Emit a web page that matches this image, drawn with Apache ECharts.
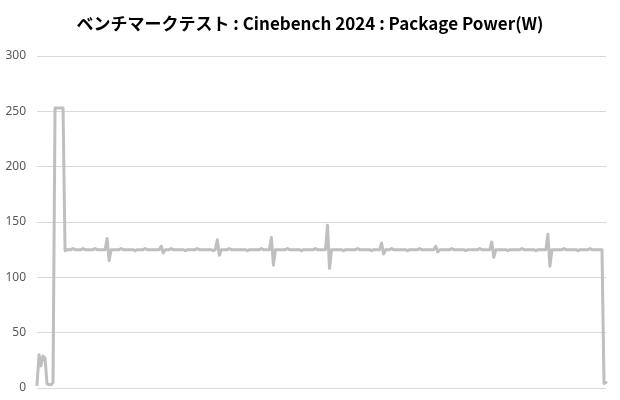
<!DOCTYPE html>
<html>
<head>
<meta charset="utf-8">
<script src="https://cdn.jsdelivr.net/npm/echarts@6/dist/echarts.min.js"></script>
<style>
  html, body { margin: 0; padding: 0; background: #fff; }
  #main { width: 620px; height: 400px; }
</style>
</head>
<body>
<div id="main"></div>
<script>
// Package Power (W), one sample per step
var power = [
  3, 30, 20, 29, 27, 4, 3, 3, 5, 253,
  253, 253, 253, 253, 124, 125, 125, 125, 126, 125,
  125, 125, 125, 126, 125, 125, 125, 125, 125, 126,
  125, 125, 125, 125, 125, 135, 115, 125, 125, 125,
  125, 125, 126, 125, 125, 125, 125, 125, 125, 124,
  125, 125, 125, 125, 126, 125, 125, 125, 125, 125,
  125, 125, 128, 122, 125, 125, 125, 126, 125, 125,
  125, 125, 125, 125, 124, 125, 125, 125, 125, 125,
  126, 125, 125, 125, 125, 125, 125, 125, 124, 125,
  134, 120, 125, 125, 125, 125, 126, 125, 125, 125,
  125, 125, 125, 125, 125, 124, 125, 125, 125, 125,
  125, 125, 126, 125, 125, 125, 125, 136, 111, 125,
  125, 125, 125, 125, 125, 126, 125, 125, 125, 125,
  125, 125, 124, 125, 125, 125, 125, 125, 125, 126,
  125, 125, 125, 125, 125, 147, 108, 125, 125, 125,
  125, 125, 125, 124, 125, 125, 125, 125, 125, 125,
  126, 125, 125, 125, 125, 125, 125, 124, 125, 125,
  125, 125, 131, 121, 125, 125, 125, 126, 125, 125,
  125, 125, 125, 125, 125, 124, 125, 125, 125, 125,
  125, 126, 125, 125, 125, 125, 125, 125, 125, 128,
  123, 125, 125, 125, 125, 125, 125, 126, 125, 125,
  125, 125, 125, 125, 124, 125, 125, 125, 125, 125,
  125, 126, 125, 125, 125, 125, 125, 132, 118, 125,
  125, 125, 125, 125, 125, 124, 125, 125, 125, 125,
  125, 125, 126, 125, 125, 125, 125, 125, 125, 124,
  125, 125, 125, 125, 125, 139, 110, 125, 125, 125,
  125, 125, 125, 126, 125, 125, 125, 125, 125, 125,
  124, 125, 125, 125, 125, 125, 126, 125, 125, 125,
  125, 125, 125, 4, 5
];
var samples = power.map(function (v, i) { return i + 1; });

var chart = echarts.init(document.getElementById('main'));

var option = {
  animation: false,
  title: {
    text: 'ベンチマークテスト : Cinebench 2024 : Package Power(W)',
    left: 'center',
    top: 10,
    textStyle: {
      fontFamily: 'Noto Sans CJK JP',
      fontSize: 17,
      fontWeight: 'bold',
      color: '#000'
    }
  },
  grid: {
    left: 37,
    right: 14,
    top: 56,
    bottom: 12
  },
  xAxis: {
    type: 'category',
    data: samples,
    boundaryGap: false,
    axisLine: { show: false },
    axisTick: { show: false },
    axisLabel: { show: false }
  },
  yAxis: {
    type: 'value',
    min: 0,
    max: 300,
    interval: 50,
    axisLine: { show: false },
    axisTick: { show: false },
    axisLabel: {
      color: '#595959',
      fontSize: 12,
      fontFamily: 'Noto Sans',
      margin: 11
    },
    splitLine: {
      lineStyle: { color: '#d9d9d9', width: 1 }
    }
  },
  series: [{
    type: 'line',
    data: power,
    showSymbol: false,
    lineStyle: {
      color: '#bfbfbf',
      width: 3,
      join: 'round',
      cap: 'round'
    }
  }]
};
chart.setOption(option);
</script>
</body>
</html>
